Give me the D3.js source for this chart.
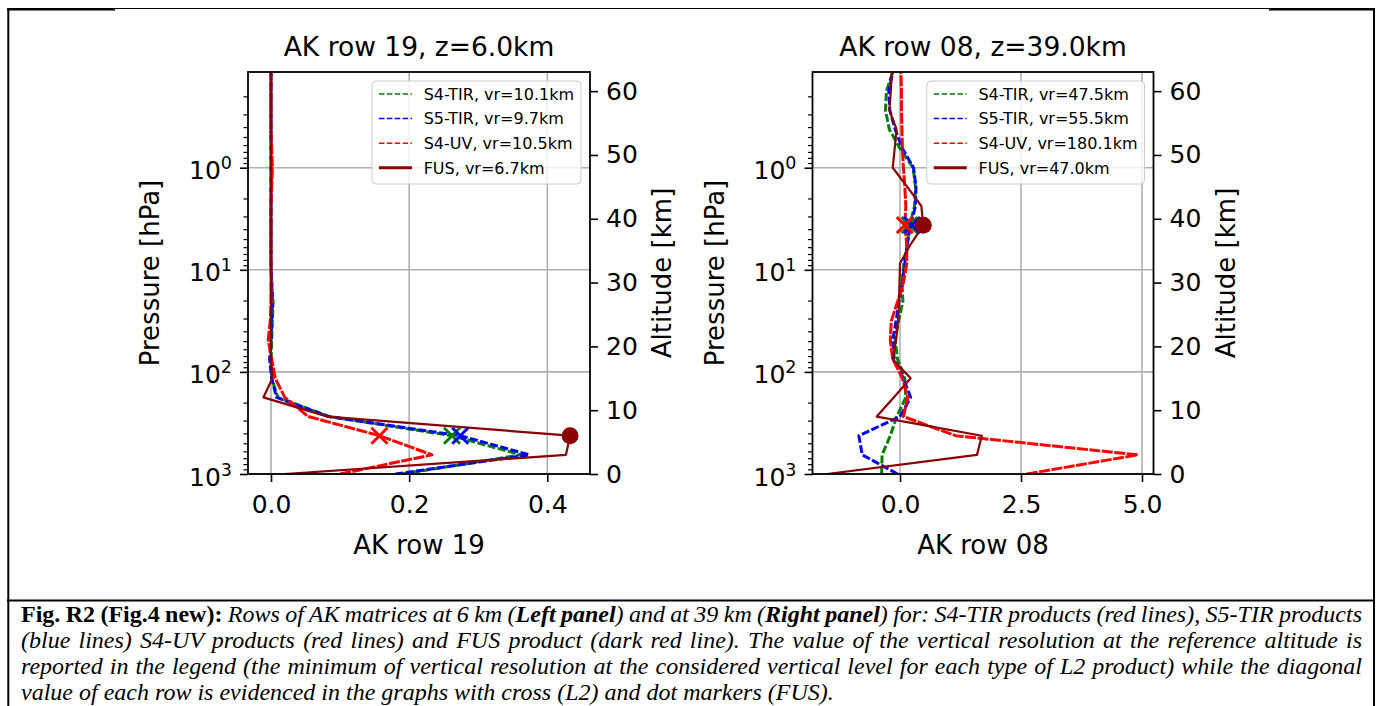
<!DOCTYPE html>
<html>
<head>
<meta charset="utf-8">
<script src="https://cdn.jsdelivr.net/npm/d3@7"></script>
<style>
  html, body { margin: 0; padding: 0; background: #fff; }
  svg { display: block; }
  .chart text { font-family: "DejaVu Sans", sans-serif; fill: #000; }
  .caption text { font-family: "Liberation Serif", "Times New Roman", serif; fill: #000; white-space: pre; }
</style>
</head>
<body>
<svg id="fig" width="1379" height="706"></svg>
<script>
// AK levels, km (row 21 at the ground, row 00 at the top)
const altitudes = [0, 3, 6, 9, 12, 15, 18, 21, 24, 27, 30, 33, 36, 39, 42, 45, 48, 51, 54, 57, 60, 63];

// AK row 19, z = 6 km
const s4tir19 = [0.19, 0.362, 0.262, 0.085, 0.010, 0.001, 0.000, 0.001, 0.002, 0.003, 0.001, 0, 0, 0, 0, 0, 0, 0, 0, 0, 0, 0];
const s5tir19 = [0.18, 0.374, 0.274, 0.083, 0.008, 0.001, -0.002, 0.000, 0.001, 0.002, 0.001, 0, 0, 0, 0, 0, 0, 0, 0, 0, 0, 0];
const s4uv19 = [0.10, 0.233, 0.157, 0.054, 0.020, 0.006, 0.001, -0.004, -0.001, 0.000, 0.000, 0, 0, 0, 0, 0.001, 0.002, 0.001, 0, 0, 0, 0];
const fus19 = [0.02, 0.427, 0.433, 0.082, -0.011, 0.002, 0.000, 0, 0, 0, 0, 0, 0, 0, 0, 0, 0, 0, 0, 0, 0, 0];

// AK row 08, z = 39 km
const s4tir08 = [-0.38, -0.37, -0.20, -0.07, 0.12, 0.10, -0.05, -0.10, -0.03, 0.06, 0.04, 0.08, 0.15, 0.20, 0.30, 0.32, 0.27, 0.00, -0.22, -0.30, -0.28, -0.15];
const s5tir08 = [-0.05, -0.78, -0.85, 0.00, 0.22, 0.07, -0.12, -0.15, -0.08, -0.02, 0.05, 0.10, 0.15, 0.22, 0.32, 0.33, 0.28, 0.05, -0.10, -0.21, -0.23, -0.15];
const s4uv08 = [2.62, 4.91, 1.15, 0.07, 0.16, 0.05, -0.15, -0.20, -0.18, -0.05, 0.07, 0.14, 0.14, 0.10, 0.12, 0.10, 0.07, 0.05, 0.04, 0.03, 0.03, 0.02];
const fus08 = [-1.51, 1.59, 1.69, -0.48, -0.13, 0.22, -0.15, -0.08, -0.04, -0.02, -0.01, 0.00, 0.22, 0.48, 0.44, 0.15, -0.15, -0.11, -0.07, -0.22, -0.19, -0.17];

// diagonal values (S4-TIR, S5-TIR, S4-UV crosses, FUS dot)
const diag19 = [0.262, 0.274, 0.157, 0.433];
const diag08 = [0.20, 0.25, 0.10, 0.48];

const legend19 = ['S4-TIR, vr=10.1km', 'S5-TIR, vr=9.7km', 'S4-UV, vr=10.5km', 'FUS, vr=6.7km'];
const legend08 = ['S4-TIR, vr=47.5km', 'S5-TIR, vr=55.5km', 'S4-UV, vr=180.1km', 'FUS, vr=47.0km'];

const xTicks19 = [0, 0.2, 0.4];
const xTicks08 = [0, 2.5, 5];
const pressureTicks = [1, 10, 100, 1000];
const pressureMinor = [0.2, 0.3, 0.4, 0.5, 0.6, 0.7, 0.8, 0.9, 2, 3, 4, 5, 6, 7, 8, 9,
  20, 30, 40, 50, 60, 70, 80, 90, 200, 300, 400, 500, 600, 700, 800, 900];
const altitudeTicks = [0, 10, 20, 30, 40, 50, 60];

const colors = ['#008000', '#0000ff', '#ff0000', '#8b0000'];
const dashes = ['8,2.5', '8,2.5', '11,1.5', null];

const captionLines = [
  [['Fig. R2 (Fig.4 new):', 'bold', 'normal'], [' Rows of AK matrices at 6 km (', 'normal', 'italic'],
   ['Left panel', 'bold', 'italic'], [') and at 39 km (', 'normal', 'italic'], ['Right panel', 'bold', 'italic'],
   [') for: S4-TIR products (red lines), S5-TIR products', 'normal', 'italic']],
  [['(blue lines) S4-UV products (red lines) and FUS product (dark red line). The value of the vertical resolution at the reference altitude is', 'normal', 'italic']],
  [['reported in the legend (the minimum of vertical resolution at the considered vertical level for each type of L2 product) while the diagonal', 'normal', 'italic']],
  [['value of each row is evidenced in the graphs with cross (L2) and dot markers (FUS).', 'normal', 'italic']]
];

const svg = d3.select('#fig');
svg.append('rect').attr('width', 1379).attr('height', 706).attr('fill', '#fff');

const plotTop = 72, plotBottom = 474;
const altMax = 63;

const panels = [
  { left: 248, right: 590, x0: 271, x1: 547.3, v1: 0.4, ticks: xTicks19, fmt: d3.format('.1f'),
    title: 'AK row 19, z=6.0km', xlabel: 'AK row 19',
    series: [s4tir19, s5tir19, s4uv19, fus19], diag: diag19, zDiag: 6, legend: legend19 },
  { left: 812.5, right: 1153.5, x0: 900, x1: 1142, v1: 5, ticks: xTicks08, fmt: d3.format('.1f'),
    title: 'AK row 08, z=39.0km', xlabel: 'AK row 08',
    series: [s4tir08, s5tir08, s4uv08, fus08], diag: diag08, zDiag: 39, legend: legend08 }
];

const yAlt = d3.scaleLinear().domain([0, altMax]).range([plotBottom, plotTop]);
const yP = d3.scaleLog().domain([1000, 1000 * Math.pow(10, -altMax / 16)]).range([plotBottom, plotTop]);

panels.forEach((p, pi) => {
  const pxPerUnit = (p.x1 - p.x0) / p.v1;
  const x = d3.scaleLinear()
    .domain([(p.left - p.x0) / pxPerUnit, (p.right - p.x0) / pxPerUnit])
    .range([p.left, p.right]);

  const g = svg.append('g').attr('class', 'chart');

  // grid
  g.append('g').selectAll('line')
    .data(p.ticks)
    .enter().append('line')
    .attr('x1', d => x(d)).attr('x2', d => x(d))
    .attr('y1', plotTop).attr('y2', plotBottom)
    .attr('stroke', '#b0b0b0').attr('stroke-width', 1.6);
  g.append('g').selectAll('line')
    .data(pressureTicks)
    .enter().append('line')
    .attr('x1', p.left).attr('x2', p.right)
    .attr('y1', d => yP(d)).attr('y2', d => yP(d))
    .attr('stroke', '#b0b0b0').attr('stroke-width', 1.6);

  // profiles
  const clipId = 'clip' + pi;
  g.append('clipPath').attr('id', clipId)
    .append('rect').attr('x', p.left).attr('y', plotTop)
    .attr('width', p.right - p.left).attr('height', plotBottom - plotTop);

  const line = d3.line()
    .x(d => x(d[0]))
    .y(d => yAlt(d[1]));

  const lines = g.append('g').attr('clip-path', `url(#${clipId})`);
  p.series.forEach((s, i) => {
    lines.append('path')
      .datum(s.map((v, k) => [v, altitudes[k]]))
      .attr('d', line)
      .attr('fill', 'none')
      .attr('stroke', colors[i])
      .attr('stroke-width', dashes[i] ? 3 : 2.2)
      .attr('stroke-dasharray', dashes[i])
      .attr('stroke-linejoin', 'round');
  });

  // diagonal markers
  p.diag.forEach((v, i) => {
    if (i < 3) {
      lines.append('path')
        .attr('transform', `translate(${x(v)},${yAlt(p.zDiag)})`)
        .attr('d', 'M-8,-8L8,8M-8,8L8,-8')
        .attr('stroke', colors[i])
        .attr('stroke-width', 3)
        .attr('fill', 'none');
    } else {
      lines.append('circle')
        .attr('cx', x(v)).attr('cy', yAlt(p.zDiag))
        .attr('r', 8.5)
        .attr('fill', colors[i]);
    }
  });

  // spines
  g.append('rect')
    .attr('x', p.left).attr('y', plotTop)
    .attr('width', p.right - p.left).attr('height', plotBottom - plotTop)
    .attr('fill', 'none').attr('stroke', '#000').attr('stroke-width', 1.8);

  // x axis
  const xAxis = g.append('g')
    .attr('transform', `translate(0,${plotBottom})`)
    .call(d3.axisBottom(x).tickValues(p.ticks).tickFormat(p.fmt).tickSize(8).tickPadding(8));
  xAxis.select('.domain').remove();
  xAxis.selectAll('.tick line').attr('stroke', '#000').attr('stroke-width', 1.6);
  xAxis.selectAll('.tick text').attr('font-size', 25).attr('dy', '0.93em')
    .attr('font-family', 'DejaVu Sans').attr('fill', '#000');

  // left pressure axis
  const yAxis = g.append('g')
    .attr('transform', `translate(${p.left},0)`)
    .call(d3.axisLeft(yP).tickValues(pressureTicks).tickSize(8).tickPadding(8).tickFormat(d => d));
  yAxis.select('.domain').remove();
  yAxis.selectAll('.tick line').attr('stroke', '#000').attr('stroke-width', 1.6);
  yAxis.selectAll('.tick text')
    .attr('font-size', 25).attr('font-family', 'DejaVu Sans').attr('fill', '#000')
    .attr('dy', 11)
    .each(function(d) {
      const t = d3.select(this).text(null);
      t.append('tspan').text('10');
      t.append('tspan').attr('font-size', 17.5).attr('dy', -10).text(Math.round(Math.log10(d)));
    });
  const yMinor = g.append('g')
    .attr('transform', `translate(${p.left},0)`)
    .call(d3.axisLeft(yP).tickValues(pressureMinor).tickSize(4.5).tickFormat(''));
  yMinor.select('.domain').remove();
  yMinor.selectAll('.tick line').attr('stroke', '#000').attr('stroke-width', 1.2);

  // right altitude axis
  const aAxis = g.append('g')
    .attr('transform', `translate(${p.right},0)`)
    .call(d3.axisRight(yAlt).tickValues(altitudeTicks).tickSize(8).tickPadding(8));
  aAxis.select('.domain').remove();
  aAxis.selectAll('.tick line').attr('stroke', '#000').attr('stroke-width', 1.6);
  aAxis.selectAll('.tick text').attr('font-size', 25)
    .attr('font-family', 'DejaVu Sans').attr('fill', '#000');

  // titles and labels
  const cx = (p.left + p.right) / 2, cy = (plotTop + plotBottom) / 2;
  g.append('text').attr('x', cx).attr('y', 56).attr('text-anchor', 'middle')
    .attr('font-size', 26.5).text(p.title);
  g.append('text').attr('x', cx).attr('y', 554).attr('text-anchor', 'middle')
    .attr('font-size', 26).text(p.xlabel);
  g.append('text').attr('transform', `translate(${p.left - 89},${cy}) rotate(-90)`)
    .attr('text-anchor', 'middle').attr('font-size', 26).text('Pressure [hPa]');
  g.append('text').attr('transform', `translate(${p.right + 81},${cy}) rotate(-90)`)
    .attr('text-anchor', 'middle').attr('font-size', 26).text('Altitude [km]');

  // legend
  const lg = g.append('g');
  const box = lg.append('rect');
  const rowY = i => plotTop + 22 + i * 24.6;
  const labels = lg.selectAll('text')
    .data(p.legend)
    .enter().append('text')
    .attr('font-size', 16)
    .attr('y', (d, i) => rowY(i) + 5.8)
    .text(d => d);
  let maxW = 0;
  labels.each(function() { maxW = Math.max(maxW, this.getComputedTextLength()); });
  const lw = 51.7 + maxW + 7;
  const lx = p.right - 9 - lw;
  box.attr('x', lx).attr('y', plotTop + 9).attr('width', lw).attr('height', 103)
    .attr('rx', 4).attr('fill', '#fff').attr('fill-opacity', 0.8)
    .attr('stroke', '#cccccc').attr('stroke-width', 1);
  labels.attr('x', lx + 51.7);
  p.legend.forEach((d, i) => {
    lg.append('line')
      .attr('x1', lx + 7).attr('x2', lx + 40)
      .attr('y1', rowY(i)).attr('y2', rowY(i))
      .attr('stroke', colors[i])
      .attr('stroke-width', dashes[i] ? 1.5 : 3)
      .attr('stroke-dasharray', dashes[i] ? '5.5,2.4' : null);
  });
});

// page frame
const frame = svg.append('g').attr('stroke', '#000');
frame.append('line').attr('x1', 8).attr('x2', 1374).attr('y1', 8.5).attr('y2', 8.5).attr('stroke-width', 1);
frame.append('line').attr('x1', 7).attr('x2', 115).attr('y1', 9.5).attr('y2', 9.5).attr('stroke-width', 2);
frame.append('line').attr('x1', 1269).attr('x2', 1375).attr('y1', 9.5).attr('y2', 9.5).attr('stroke-width', 2);
frame.append('line').attr('x1', 8.3).attr('x2', 8.3).attr('y1', 8).attr('y2', 706).attr('stroke-width', 2);
frame.append('line').attr('x1', 1374).attr('x2', 1374).attr('y1', 8).attr('y2', 706).attr('stroke-width', 2);
frame.append('line').attr('x1', 7).attr('x2', 1375).attr('y1', 600.5).attr('y2', 600.5).attr('stroke-width', 2);

// caption, justified like the source document
const cap = svg.append('g').attr('class', 'caption');
const capLeft = 21, capWidth = 1341;
captionLines.forEach((parts, i) => {
  const t = cap.append('text')
    .attr('x', capLeft).attr('y', 622 + i * 26)
    .attr('font-size', 24);
  parts.forEach(([s, w, st]) => {
    t.append('tspan').attr('font-weight', w).attr('font-style', st).text(s);
  });
  if (i < captionLines.length - 1) {
    const full = parts.map(d => d[0]).join('');
    const spaces = (full.match(/ /g) || []).length;
    const nat = t.node().getComputedTextLength();
    t.attr('word-spacing', (capWidth - nat) / spaces);
  }
});
</script>
</body>
</html>
